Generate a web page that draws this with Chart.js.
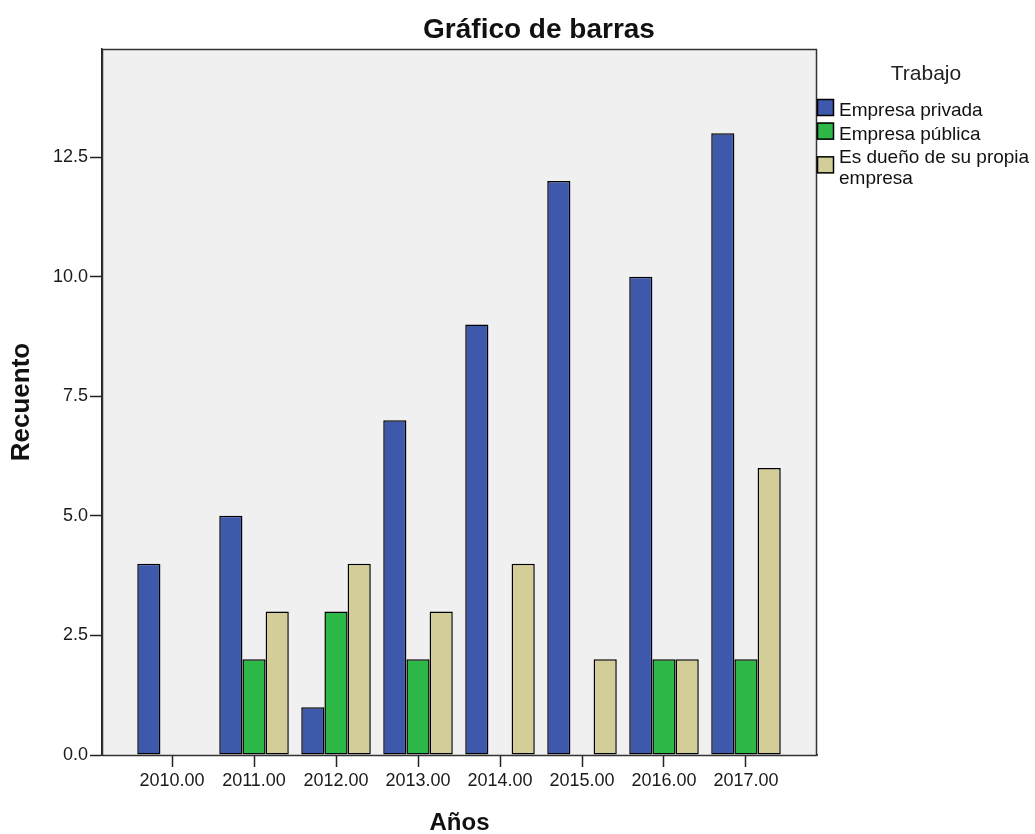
<!DOCTYPE html>
<html>
<head>
<meta charset="utf-8">
<script src="https://cdn.jsdelivr.net/npm/chart.js@4.4.1/dist/chart.umd.min.js"></script>
<style>
  body { margin: 0; background: #fff; }
  #wrap { width: 1035px; height: 834px; }
</style>
</head>
<body>
<div id="wrap"><canvas id="barChart" width="1035" height="834"></canvas></div>
<script>
// Datos
const years = [2010, 2011, 2012, 2013, 2014, 2015, 2016, 2017];
const privada = [4, 5, 1, 7, 9, 12, 10, 13];
const publica = [0, 2, 3, 2, 0, 0, 2, 2];
const propia = [0, 3, 4, 3, 4, 2, 2, 6];
const yTicks = [0, 2.5, 5, 7.5, 10, 12.5];

const seriesNames = ['Empresa privada', 'Empresa pública', 'Es dueño de su propia empresa'];
const seriesColors = ['#3e58ac', '#2eb848', '#d3ce97'];

const chartTitle = 'Gráfico de barras';
const legendTitle = 'Trabajo';
const xTitle = 'Años';
const yTitle = 'Recuento';

const FONT = 'Arial, "Liberation Sans", sans-serif';
Chart.defaults.font.family = FONT;
Chart.defaults.color = '#1a1a1a';

// fondo gris y marco del área de trazado
const plotFrame = {
    id: 'plotFrame',
    beforeDatasetsDraw(chart) {
        const a = chart.chartArea;
        const ctx = chart.ctx;
        ctx.save();
        ctx.fillStyle = '#f0f0f0';
        ctx.fillRect(a.left, a.top, a.right - a.left, a.bottom - a.top);
        ctx.restore();
    },
    afterDatasetsDraw(chart) {
        const a = chart.chartArea;
        const ctx = chart.ctx;
        ctx.save();
        ctx.strokeStyle = '#333';
        ctx.lineWidth = 1.5;
        ctx.strokeRect(Math.round(a.left) + 0.5, Math.round(a.top) + 0.5,
            Math.round(a.right - a.left) - 1, Math.round(a.bottom - a.top));
        ctx.restore();
    }
};

// título y leyenda al estilo SPSS
const spssText = {
    id: 'spssText',
    afterDraw(chart) {
        const ctx = chart.ctx;
        const a = chart.chartArea;
        ctx.save();
        ctx.fillStyle = '#111';
        ctx.textBaseline = 'alphabetic';
        ctx.textAlign = 'center';
        ctx.font = 'bold 28px ' + FONT;
        ctx.fillText(chartTitle, 539, 38);

        ctx.font = '21px ' + FONT;
        ctx.fillStyle = '#222';
        ctx.fillText(legendTitle, 926, 80);

        ctx.textAlign = 'left';
        ctx.font = '19px ' + FONT;
        const textX = a.right + 22;
        const maxW = chart.width - textX - 2;
        let baseline = 116;
        chart.data.datasets.forEach(ds => {
            // partir la etiqueta en líneas
            const words = ds.label.split(' ');
            const lines = [];
            let cur = '';
            words.forEach(w => {
                const test = cur ? cur + ' ' + w : w;
                if (ctx.measureText(test).width > maxW && cur) {
                    lines.push(cur);
                    cur = w;
                } else {
                    cur = test;
                }
            });
            lines.push(cur);
            const lh = 20.3;
            const boxTop = baseline - 17 + (lines.length - 1) * lh / 2;
            ctx.fillStyle = ds.backgroundColor;
            ctx.fillRect(a.right, boxTop, 17, 17);
            ctx.strokeStyle = '#000';
            ctx.lineWidth = 1.5;
            ctx.strokeRect(a.right + 0.5, boxTop + 0.5, 16, 16);
            ctx.fillStyle = '#111';
            lines.forEach((ln, i) => ctx.fillText(ln, textX, baseline + i * lh));
            baseline += (lines.length - 1) * lh + 23.6;
        });
        ctx.restore();
    }
};

function makeDataset(i, values) {
    return {
        label: seriesNames[i],
        data: values,
        backgroundColor: seriesColors[i],
        borderColor: '#000',
        borderWidth: 1.5,
        borderSkipped: false,
        categoryPercentage: 0.848,
        barPercentage: 1.0
    };
}

const ctx = document.getElementById('barChart').getContext('2d');
new Chart(ctx, {
    type: 'bar',
    data: {
        labels: years,
        datasets: [
            makeDataset(0, privada),
            makeDataset(1, publica),
            makeDataset(2, propia)
        ]
    },
    options: {
        responsive: false,
        animation: false,
        layout: { padding: { left: 0, top: 49, right: 218, bottom: 0 } },
        plugins: {
            legend: { display: false },
            title: { display: false },
            tooltip: { enabled: false }
        },
        scales: {
            x: {
                type: 'linear',
                offset: false,
                min: 2009.146,
                max: 2017.866,
                afterBuildTicks: s => { s.ticks = years.map(v => ({ value: v })); },
                afterFit: s => { s.height = 79; },
                grid: {
                    offset: false,
                    drawOnChartArea: false,
                    tickLength: 12,
                    tickColor: '#222',
                    tickWidth: 1.5
                },
                border: { display: true, color: '#222', width: 1.5 },
                ticks: {
                    autoSkip: false,
                    maxRotation: 0,
                    padding: 3,
                    font: { size: 18 },
                    color: '#1a1a1a',
                    callback: v => Number(v).toFixed(2)
                },
                title: {
                    display: true,
                    text: xTitle,
                    font: { size: 24, weight: 'bold' },
                    color: '#111',
                    padding: { top: 0, bottom: -4 }
                }
            },
            y: {
                min: 0,
                max: 14.76,
                afterBuildTicks: s => { s.ticks = yTicks.map(v => ({ value: v })); },
                afterFit: s => { s.width = 102; },
                grid: {
                    drawOnChartArea: false,
                    tickLength: 12,
                    tickColor: '#222',
                    tickWidth: 1.5
                },
                border: { display: true, color: '#222', width: 1.5 },
                ticks: {
                    padding: 2,
                    font: { size: 18 },
                    color: '#1a1a1a',
                    callback: v => Number(v).toFixed(1)
                },
                title: {
                    display: true,
                    text: yTitle,
                    font: { size: 26, weight: 'bold' },
                    color: '#111',
                    padding: { top: 6, bottom: 0 }
                }
            }
        }
    },
    plugins: [plotFrame, spssText]
});
</script>
</body>
</html>
